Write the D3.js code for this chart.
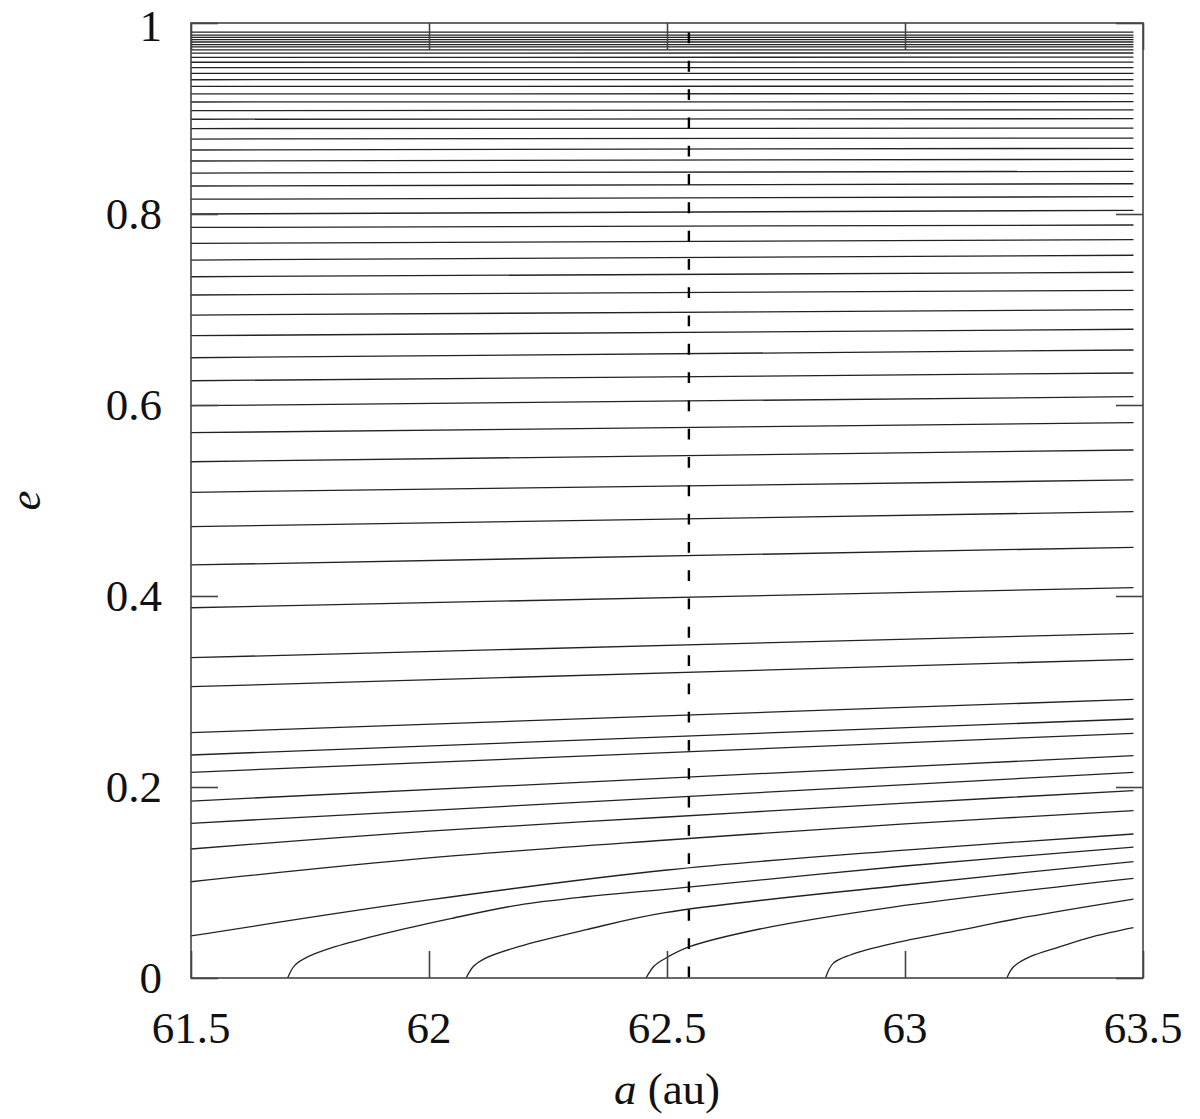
<!DOCTYPE html>
<html>
<head>
<meta charset="utf-8">
<script src="https://cdn.jsdelivr.net/npm/d3@7"></script>
<style>
  html, body { margin: 0; padding: 0; background: #fff; }
  svg { display: block; }
  text { font-family: "Liberation Serif", "Times New Roman", serif; fill: #111; }
</style>
</head>
<body>
<svg id="chart" width="1200" height="1119"></svg>
<script>
// ---- data ----
const aTicks = [61.5, 62, 62.5, 63, 63.5];
const aTickLabels = ["61.5", "62", "62.5", "63", "63.5"];
const eTicks = [0, 0.2, 0.4, 0.6, 0.8, 1];
const eTickLabels = ["0", "0.2", "0.4", "0.6", "0.8", "1"];

const aLeftEnd = 61.5;    // contour lines start at the left frame
const aRightEnd = 63.48;  // and stop just short of the right frame

// e of each contour line at the left edge
const eLeft = [
  0.9905, 0.9874, 0.9850, 0.9825, 0.9801, 0.9774, 0.9749, 0.9718, 0.9685, 0.9640,
  0.9589, 0.9532, 0.9472, 0.9406, 0.9337, 0.9258, 0.9173, 0.9082, 0.8992, 0.8895,
  0.8785, 0.8670, 0.8555, 0.8429, 0.8293, 0.8155, 0.8000, 0.7859, 0.7693, 0.7518,
  0.7343, 0.7152, 0.6942, 0.6726, 0.6495, 0.6254, 0.5993, 0.5710, 0.5406, 0.5086,
  0.4726, 0.4325, 0.3877, 0.3354, 0.3050, 0.2569, 0.2335, 0.2154, 0.1853, 0.1620,
  0.1351, 0.1008, 0.0440
];
// e of each contour line at the right end
const eRight = [
  0.9905, 0.9874, 0.9850, 0.9825, 0.9801, 0.9774, 0.9749, 0.9718, 0.9686, 0.9642,
  0.9591, 0.9533, 0.9473, 0.9407, 0.9338, 0.9260, 0.9176, 0.9091, 0.8998, 0.8899,
  0.8795, 0.8688, 0.8573, 0.8447, 0.8317, 0.8181, 0.8039, 0.7885, 0.7731, 0.7568,
  0.7390, 0.7201, 0.6998, 0.6793, 0.6576, 0.6335, 0.6087, 0.5815, 0.5529, 0.5215,
  0.4883, 0.4510, 0.4087, 0.3609, 0.3337, 0.2918, 0.2712, 0.2562, 0.2328, 0.2154,
  0.1961, 0.1752, 0.1508
];
// extra inner points for the lowest, visibly bent lines: [line index, [[a, e], ...]]
const bentInner = [
  [50, [[62.0, 0.1539], [62.5, 0.1686], [63.0, 0.1832]]],
  [51, [[62.0, 0.1257], [62.5, 0.1445], [63.0, 0.1613]]],
  [52, [[62.0, 0.0817], [62.5, 0.1131], [63.0, 0.1340]]]
];
// contours rising from e = 0
const arcs = [
  [[61.703, 0], [61.718, 0.0132], [61.746, 0.0223], [61.803, 0.0328], [61.908, 0.0468],
   [62.048, 0.0625], [62.188, 0.0764], [62.329, 0.0851], [62.497, 0.0928], [63.0, 0.1173], [63.48, 0.1370]],
  [[62.078, 0], [62.094, 0.0125], [62.118, 0.0206], [62.188, 0.0328], [62.328, 0.0503], [62.496, 0.0684],
   [63.0, 0.0974], [63.48, 0.1218]],
  [[62.456, 0], [62.473, 0.0126], [62.496, 0.0204], [62.546, 0.0325], [62.695, 0.0513],
   [62.975, 0.0743], [63.48, 0.1044]],
  [[62.833, 0], [62.849, 0.0153], [62.885, 0.0241], [62.976, 0.0363], [63.118, 0.0503],
   [63.258, 0.0642], [63.48, 0.0827]],
  [[63.214, 0], [63.228, 0.0118], [63.263, 0.0223], [63.326, 0.0328], [63.395, 0.0433],
   [63.48, 0.0527]]
];
const aDashed = 62.546;

// ---- drawing ----
const svg = d3.select("#chart");
const x = d3.scaleLinear().domain([61.5, 63.5]).range([191, 1143]);
const y = d3.scaleLinear().domain([0, 1]).range([978, 23]);

const line = d3.line()
  .x(d => x(d[0])).y(d => y(d[1]))
  .curve(d3.curveCatmullRom.alpha(0.5));

const contours = eLeft.map((eL, i) => {
  const inner = (bentInner.find(b => b[0] === i) || [null, []])[1];
  return [[aLeftEnd, eL], ...inner, [aRightEnd, eRight[i]]];
});

const g = svg.append("g");

g.selectAll("path.contour")
  .data(contours.concat(arcs))
  .join("path")
  .attr("class", "contour")
  .attr("d", line)
  .attr("fill", "none")
  .attr("stroke", "#222")
  .attr("stroke-width", 1.3);

// dashed vertical line (drawn top-down so a dash starts at the top)
g.append("line")
  .attr("x1", x(aDashed)).attr("x2", x(aDashed))
  .attr("y1", y(0.99)).attr("y2", y(0))
  .attr("stroke", "#000")
  .attr("stroke-width", 2.4)
  .attr("stroke-dasharray", "10.8,17.5");

// frame
g.append("rect")
  .attr("x", x(61.5)).attr("y", y(1))
  .attr("width", x(63.5) - x(61.5)).attr("height", y(0) - y(1))
  .attr("fill", "none").attr("stroke", "#444").attr("stroke-width", 1.6);

// inward ticks via d3 axes
const tickLen = 27;
const tickStyle = sel => {
  sel.select(".domain").remove();
  sel.selectAll(".tick line").attr("stroke", "#444").attr("stroke-width", 1.6);
  sel.selectAll(".tick text").remove();
};
g.append("g").attr("transform", `translate(0,${y(0)})`)
  .call(d3.axisBottom(x).tickValues(aTicks).tickSize(-tickLen)).call(tickStyle);
g.append("g").attr("transform", `translate(0,${y(1)})`)
  .call(d3.axisTop(x).tickValues(aTicks).tickSize(-tickLen)).call(tickStyle);
g.append("g").attr("transform", `translate(${x(61.5)},0)`)
  .call(d3.axisLeft(y).tickValues(eTicks).tickSize(-tickLen)).call(tickStyle);
g.append("g").attr("transform", `translate(${x(63.5)},0)`)
  .call(d3.axisRight(y).tickValues(eTicks).tickSize(-tickLen)).call(tickStyle);

// tick labels
const fs = 45;
g.selectAll("text.xl").data(aTicks).join("text")
  .attr("class", "xl")
  .attr("x", d => x(d)).attr("y", 1043)
  .attr("text-anchor", "middle")
  .attr("font-size", fs)
  .text((d, i) => aTickLabels[i]);

g.selectAll("text.yl").data(eTicks).join("text")
  .attr("class", "yl")
  .attr("x", 162).attr("y", d => Math.max(y(d) + 15, 41))
  .attr("text-anchor", "end")
  .attr("font-size", fs)
  .text((d, i) => eTickLabels[i]);

// axis titles
const xt = g.append("text")
  .attr("x", x(62.5)).attr("y", 1104)
  .attr("text-anchor", "middle")
  .attr("font-size", fs);
xt.append("tspan").attr("font-style", "italic").text("a");
xt.append("tspan").text(" (au)");

g.append("text")
  .attr("transform", `translate(40,${y(0.5)}) rotate(-90)`)
  .attr("text-anchor", "middle")
  .attr("font-size", fs)
  .attr("font-style", "italic")
  .text("e");
</script>
</body>
</html>
